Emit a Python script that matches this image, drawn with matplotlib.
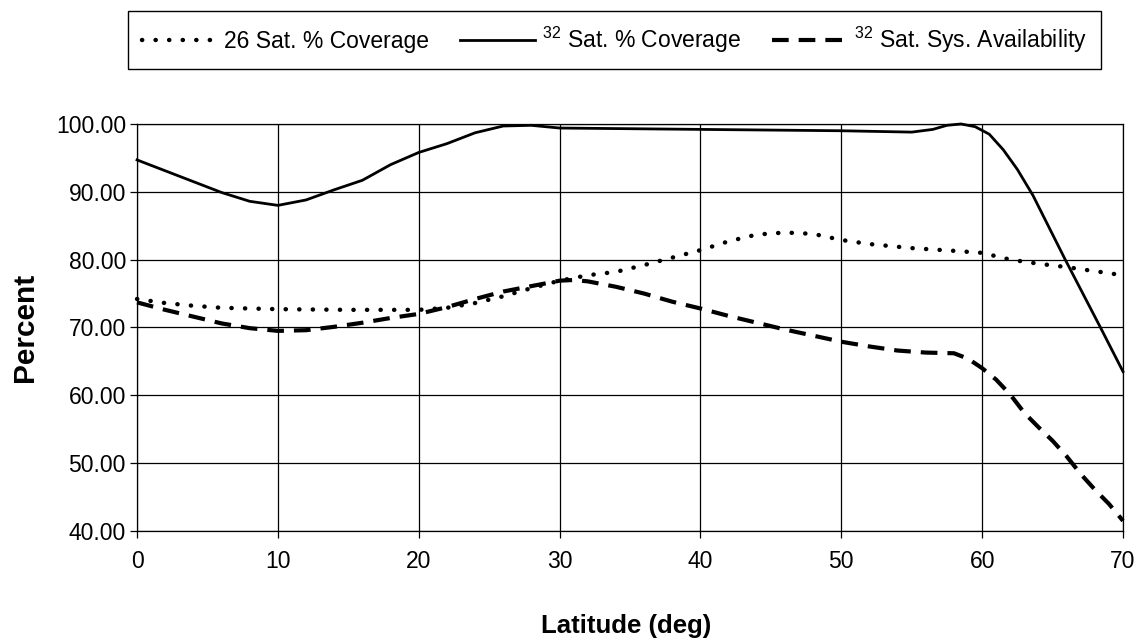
import matplotlib
matplotlib.use("Agg")
import matplotlib.pyplot as plt
from matplotlib import font_manager as fm

# values
lat_26 = [0, 2, 4, 6, 8, 10, 15, 20, 22, 24, 26, 28, 30, 32, 34, 36, 38, 40,
          42, 44, 46, 48, 50, 52, 55, 58, 60, 62, 64, 66, 68, 70]
cov_26 = [74.2, 73.6, 73.2, 72.9, 72.8, 72.7, 72.6, 72.6, 72.9, 73.6, 74.6, 75.8,
          76.9, 77.7, 78.2, 79.2, 80.3, 81.4, 82.7, 83.7, 84.0, 83.8, 82.9, 82.3,
          81.7, 81.3, 81.0, 80.0, 79.4, 78.9, 78.3, 77.7]

lat_32 = [0, 2, 4, 6, 8, 10, 12, 14, 16, 18, 20, 22, 24, 26, 28, 30, 35, 40, 45,
          50, 55, 56.5, 57.5, 58.5, 59.5, 60.5, 61.5, 62.5, 63.6, 65.9, 68.4, 70]
cov_32 = [94.7, 93.1, 91.5, 89.9, 88.6, 88.0, 88.8, 90.3, 91.7, 94.0, 95.8, 97.1,
          98.7, 99.7, 99.8, 99.4, 99.3, 99.2, 99.1, 99.0, 98.8, 99.2, 99.8, 100.0,
          99.6, 98.5, 96.2, 93.3, 89.5, 80.0, 70.0, 63.5]

lat_av = [0, 2, 4, 6, 8, 10, 12, 14, 16, 18, 20, 22, 24, 26, 28, 30, 31, 32, 34,
          36, 38, 40, 42, 44, 46, 48, 50, 52, 54, 56, 58, 59, 60, 61, 62, 63, 64,
          65, 66, 67, 68, 69, 70]
avail_32 = [73.7, 72.6, 71.6, 70.6, 69.9, 69.5, 69.6, 70.1, 70.7, 71.4, 72.0, 73.0,
            74.2, 75.3, 76.1, 76.9, 77.0, 76.8, 76.0, 75.0, 73.8, 72.8, 71.7, 70.7,
            69.7, 68.8, 67.9, 67.2, 66.6, 66.3, 66.2, 65.4, 64.0, 62.3, 60.1, 57.4,
            55.3, 53.3, 51.0, 48.4, 46.1, 44.0, 41.5]

names = {f.name for f in fm.fontManager.ttflist}
narrow = "Liberation Sans Narrow" if "Liberation Sans Narrow" in names else None
plt.rcParams['font.family'] = ['Liberation Sans', 'DejaVu Sans']

fig = plt.figure(figsize=(11.43, 6.42), dpi=100)
ax = fig.add_axes([0.1199, 0.1729, 0.8626, 0.634])

l26, = ax.plot(lat_26, cov_26, color='black', lw=3.2, linestyle=(0, (0.05, 3.0)),
               dash_capstyle='round', clip_on=False, zorder=3)
l32, = ax.plot(lat_32, cov_32, color='black', lw=2.0, clip_on=False, zorder=3)
lav, = ax.plot(lat_av, avail_32, color='black', lw=3.0, linestyle=(0, (4.0, 2.4)),
               clip_on=False, zorder=3)

ax.set_xlim(0, 70)
ax.set_ylim(40, 100)
ax.set_xticks(range(0, 71, 10))
ax.set_yticks(range(40, 101, 10))
ax.set_yticklabels(["%.2f" % v for v in range(40, 101, 10)])
ax.grid(True, color='black', lw=0.9)
ax.set_axisbelow(True)
for s in ax.spines.values():
    s.set_linewidth(0.9)
tick_size = 19 if narrow else 16.5
ax.tick_params(direction='out', length=5, width=0.9, labelsize=tick_size)
ax.tick_params(axis='x', pad=9)
ax.tick_params(axis='y', pad=3)
if narrow:
    for t in ax.get_xticklabels() + ax.get_yticklabels():
        t.set_family(narrow)

ax.set_xlabel("Latitude (deg)", fontweight='bold', fontsize=18.5)
ax.xaxis.set_label_coords(0.496, -0.204)
ax.set_ylabel("Percent", fontweight='bold', fontsize=21.5)
ax.yaxis.set_label_coords(-0.099, 0.5)

labels = ["26 Sat. % Coverage",
          r"$\mathregular{^{32}}$ Sat. % Coverage",
          r"$\mathregular{^{32}}$ Sat. Sys. Availability"]
leg = fig.legend([l26, l32, lav], labels, loc='center',
                 bbox_to_anchor=(0.112, 0.891, 0.851, 0.093), mode='expand', ncol=3,
                 borderaxespad=0, frameon=True, fancybox=False, edgecolor='black',
                 framealpha=1, borderpad=0.6, handlelength=3.3, handletextpad=0.3,
                 prop={'family': 'Liberation Sans', 'size': 16.5})
leg.get_frame().set_linewidth(1.0)

fig.savefig("out.png", dpi=100)
